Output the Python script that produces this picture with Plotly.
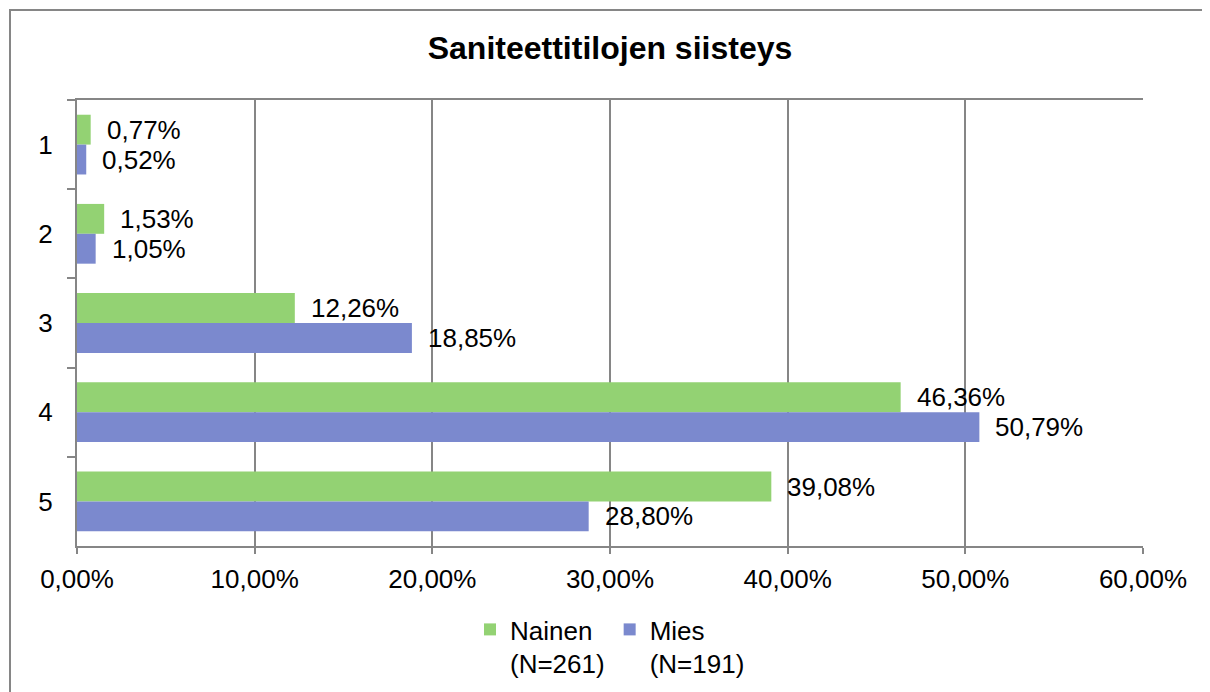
import plotly.graph_objects as go

categories = ["1", "2", "3", "4", "5"]
nainen = [0.0077, 0.0153, 0.1226, 0.4636, 0.3908]
mies = [0.0052, 0.0105, 0.1885, 0.5079, 0.2880]
series_names = ["Nainen<br>(N=261)", "Mies<br>(N=191)"]
x_ticks = [0, 0.1, 0.2, 0.3, 0.4, 0.5, 0.6]
title = "Saniteettitilojen siisteys"

GREEN = "#93D273"
BLUE = "#7B89CE"
GRID = "#868686"
FONT = "Liberation Sans, Arial, sans-serif"
FS = 26

# page has an 8px body margin; figure sized to fill the rest of the 1210x692 window
W, H = 1202, 684
L, R, T, B = 69, 67, 92, 146
PW, PH = W - L - R, H - T - B

fig = go.Figure()
for name, vals, col in [(series_names[0], nainen, GREEN), (series_names[1], mies, BLUE)]:
    fig.add_trace(go.Bar(
        y=categories, x=vals, name=name, orientation="h",
        marker=dict(color=col, line=dict(width=0)),
        hoverinfo="x",
    ))

# data labels placed just right of bars
for i, c in enumerate(categories):
    for vals, off in [(nainen, -0.167), (mies, 0.167)]:
        v = vals[i]
        fig.add_annotation(
            x=v, y=i + off, xref="x", yref="y",
            text=f"{v*100:.2f}%".replace(".", ","),
            showarrow=False, xanchor="left", yanchor="middle",
            xshift=14, font=dict(family=FONT, size=FS, color="#000"),
        )

# outer chart frame
fig.add_shape(type="rect", xref="paper", yref="paper",
              x0=(2 - L) / PW, x1=1.3, y0=-0.6, y1=(H - B - 2) / PH,
              line=dict(color=GRID, width=2), fillcolor="rgba(0,0,0,0)", layer="below")

fig.update_layout(
    width=W, height=H,
    margin=dict(l=L, r=R, t=T, b=B, autoexpand=False),
    paper_bgcolor="white", plot_bgcolor="white",
    separators=", ",
    barmode="group", bargap=0.33, bargroupgap=0,
    title=dict(text=f"<b>{title}</b>", x=0.5, xref="paper", xanchor="center",
               y=1 - 40 / H, yanchor="middle",
               font=dict(family=FONT, size=32, color="#000")),
    font=dict(family=FONT, size=FS, color="#000"),
    xaxis=dict(
        range=[0, 0.6], tickvals=x_ticks, tickformat=".2%",
        showgrid=True, gridcolor=GRID, gridwidth=1.5,
        showline=True, linecolor=GRID, linewidth=2, mirror=True,
        ticks="outside", ticklen=6, tickcolor=GRID, tickwidth=1.5,
        zeroline=False, ticklabelstandoff=3,
        tickfont=dict(family=FONT, size=FS, color="#000"),
    ),
    yaxis=dict(
        autorange="reversed", type="category",
        showgrid=False, showline=True, linecolor=GRID, linewidth=2,
        ticks="outside", ticklen=8, tickcolor=GRID, tickwidth=1.5,
        tickson="boundaries", ticklabelstandoff=17,
        tickfont=dict(family=FONT, size=FS, color="#000"),
    ),
    legend=dict(orientation="h", x=0.5, xanchor="center", y=(H - B - 598) / PH, yanchor="top",
                font=dict(family=FONT, size=FS, color="#000"),
                itemwidth=30, traceorder="normal", valign="top"),
    showlegend=True,
)

fig.write_html("out.html")
